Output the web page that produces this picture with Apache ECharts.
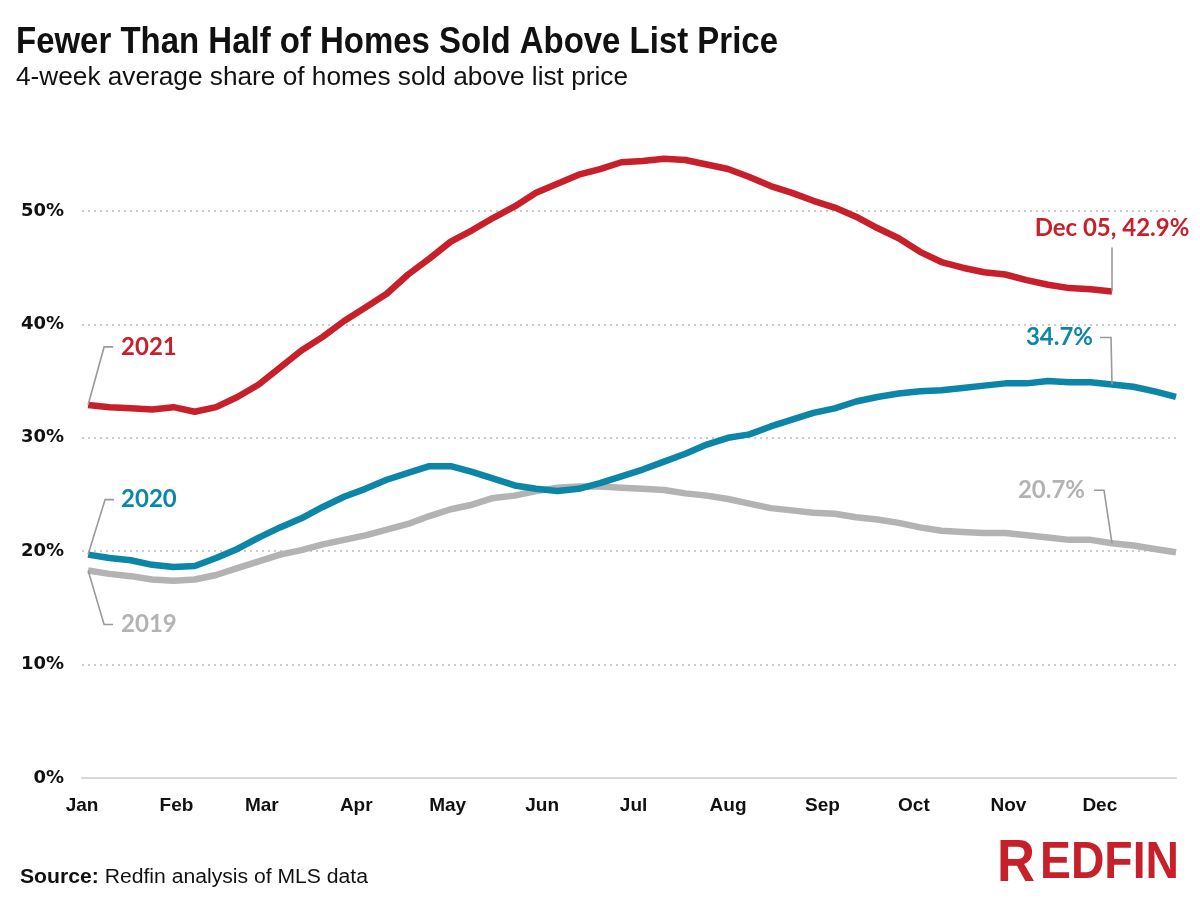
<!DOCTYPE html>
<html><head><meta charset="utf-8">
<script src="https://cdn.jsdelivr.net/npm/echarts@6/dist/echarts.min.js"></script>
<style>html,body{margin:0;padding:0;background:#fff}#c{width:1200px;height:900px}</style>
</head><body><div id="c"></div>
<script>
// ---------- data ----------
const weeks = [
 '2021-01-03','2021-01-10','2021-01-17','2021-01-24','2021-01-31',
 '2021-02-07','2021-02-14','2021-02-21','2021-02-28',
 '2021-03-07','2021-03-14','2021-03-21','2021-03-28',
 '2021-04-04','2021-04-11','2021-04-18','2021-04-25',
 '2021-05-02','2021-05-09','2021-05-16','2021-05-23','2021-05-30',
 '2021-06-06','2021-06-13','2021-06-20','2021-06-27',
 '2021-07-04','2021-07-11','2021-07-18','2021-07-25',
 '2021-08-01','2021-08-08','2021-08-15','2021-08-22','2021-08-29',
 '2021-09-05','2021-09-12','2021-09-19','2021-09-26',
 '2021-10-03','2021-10-10','2021-10-17','2021-10-24','2021-10-31',
 '2021-11-07','2021-11-14','2021-11-21','2021-11-28',
 '2021-12-05','2021-12-12','2021-12-19','2021-12-26'
];
const months = ['Jan','Feb','Mar','Apr','May','Jun','Jul','Aug','Sep','Oct','Nov','Dec'];
const monthStarts = ['2021-01-01','2021-02-01','2021-03-01','2021-04-01','2021-05-01','2021-06-01',
 '2021-07-01','2021-08-01','2021-09-01','2021-10-01','2021-11-01','2021-12-01'];
const yTicks = [0, 10, 20, 30, 40, 50];

const share2019 = [18.3,18.0,17.8,17.5,17.4,17.5,17.9,18.5,19.1,19.7,20.1,20.6,21.0,21.4,21.9,22.4,23.1,
 23.7,24.1,24.7,24.9,25.3,25.6,25.7,25.7,25.6,25.5,25.4,25.1,24.9,24.6,24.2,23.8,23.6,23.4,23.3,23.0,
 22.8,22.5,22.1,21.8,21.7,21.6,21.6,21.4,21.2,21.0,21.0,20.7,20.5,20.2,19.9];
const share2020 = [19.7,19.4,19.2,18.8,18.6,18.7,19.4,20.2,21.2,22.1,22.9,23.9,24.8,25.5,26.3,26.9,27.5,
 27.5,27.0,26.4,25.8,25.5,25.3,25.5,26.0,26.6,27.2,27.9,28.6,29.4,30.0,30.3,31.0,31.6,32.2,32.6,33.2,
 33.6,33.9,34.1,34.2,34.4,34.6,34.8,34.8,35.0,34.9,34.9,34.7,34.5,34.1,33.6];
const share2021 = [32.9,32.7,32.6,32.5,32.7,32.3,32.7,33.6,34.7,36.2,37.7,38.9,40.3,41.5,42.7,44.4,45.8,
 47.3,48.3,49.4,50.4,51.6,52.4,53.2,53.7,54.3,54.4,54.6,54.5,54.1,53.7,53.0,52.2,51.6,50.9,50.3,49.5,
 48.5,47.6,46.4,45.5,45.0,44.6,44.4,43.9,43.5,43.2,43.1,42.9];

// ---------- helpers ----------
function dayOfYear(s){ const [y,m,d] = s.split('-').map(Number); return (Date.UTC(y,m-1,d) - Date.UTC(y,0,1)) / 864e5; }
const weekDays = weeks.map(dayOfYear);
const monthDays = monthStarts.map(dayOfYear);
const pairs = vals => vals.map((v,i) => [weekDays[i], v]);

const RED = '#C8202A', BLUE = '#0B86A8', GRAY = '#B3B3B3', LEAD = '#9a9a9a', INK = '#111111';

const cv = document.createElement('canvas').getContext('2d');
function measure(text, font){ cv.font = font; return cv.measureText(text).width; }

const chart = echarts.init(document.getElementById('c'), null, {renderer:'canvas'});
chart.setOption({
  animation: false,
  backgroundColor: '#ffffff',
  grid: { left: 82, right: 24, top: 211, bottom: 122, containLabel: false },
  xAxis: {
    type: 'value', min: 0, max: 359,
    axisLine: { show: true, lineStyle: { color: '#d9d9d9', width: 2 } },
    axisTick: { show: false },
    splitLine: { show: false },
    axisLabel: {
      customValues: monthDays,
      margin: 18,
      color: INK, fontFamily: 'Liberation Sans', fontWeight: 'bold', fontSize: 19,
      formatter: v => { const i = monthDays.findIndex(d => Math.abs(d - v) < 0.01); return i >= 0 ? months[i] : ''; }
    }
  },
  yAxis: {
    type: 'value', min: yTicks[0], max: yTicks[yTicks.length-1], interval: 10,
    axisLine: { show: false }, axisTick: { show: false },
    splitLine: { show: true, lineStyle: { color: '#cccccc', width: 2, type: [2, 4] } },
    axisLabel: { margin: 18, color: INK, fontFamily: 'DejaVu Sans', fontWeight: 'bold', fontSize: 18,
      formatter: v => v + '%' }
  },
  series: [
    { name: '2019', type: 'line', data: pairs(share2019), symbol: 'none', clip: false, silent: true,
      lineStyle: { color: GRAY, width: 6.5 }, z: 2 },
    { name: '2020', type: 'line', data: pairs(share2020), symbol: 'none', clip: false, silent: true,
      lineStyle: { color: BLUE, width: 6.5 }, z: 3 },
    { name: '2021', type: 'line', data: pairs(share2021), symbol: 'none', clip: false, silent: true,
      lineStyle: { color: RED, width: 6.5 }, z: 4 }
  ]
});

// ---------- annotations ----------
const px = (d, v) => chart.convertToPixel({ gridIndex: 0 }, [d, v]);
const g = [];
function leader(pts){ g.push({ type:'polyline', silent:true, z:10, shape:{ points: pts }, style:{ stroke: LEAD, lineWidth: 1.6, fill: null } }); }
function txt(x, y, text, fill, font, align){
  g.push({ type:'text', silent:true, z:10, x, y, style:{ text, fill, font, align, verticalAlign:'middle' } });
}
const ANN = 'bold 24px Lato';

// start labels
let a = px(weekDays[0], share2021[0]);
leader([[a[0], a[1]], [a[0]+16, a[1]-58], [a[0]+25, a[1]-58]]);
txt(a[0]+33, a[1]-58, '2021', RED, ANN, 'left');
a = px(weekDays[0], share2020[0]);
leader([[a[0], a[1]], [a[0]+17, a[1]-55], [a[0]+26, a[1]-55]]);
txt(a[0]+33, a[1]-55, '2020', BLUE, ANN, 'left');
a = px(weekDays[0], share2019[0]);
leader([[a[0], a[1]], [a[0]+16, a[1]+54], [a[0]+25, a[1]+54]]);
txt(a[0]+33, a[1]+54, '2019', GRAY, ANN, 'left');

// end labels at Dec 05
const iDec = weeks.indexOf('2021-12-05');
a = px(weekDays[iDec], share2021[iDec]);
leader([[a[0], a[1]], [a[0], a[1]-44]]);
txt(a[0], a[1]-63, 'Dec 05, ' + share2021[iDec].toFixed(1) + '%', RED, ANN, 'center');
a = px(weekDays[iDec], share2020[iDec]);
leader([[a[0], a[1]], [a[0]-1, a[1]-47], [a[0]-12, a[1]-47]]);
txt(a[0]-19, a[1]-47, share2020[iDec].toFixed(1) + '%', BLUE, ANN, 'right');
a = px(weekDays[iDec], share2019[iDec]);
leader([[a[0], a[1]], [a[0]-8, a[1]-53], [a[0]-18, a[1]-53]]);
txt(a[0]-27, a[1]-53, share2019[iDec].toFixed(1) + '%', GRAY, ANN, 'right');

// ---------- titles, source, logo ----------
function fitText(x, y, text, font, targetW, fill){
  const w = measure(text, font);
  const s = targetW / w;
  g.push({ type:'text', silent:true, z:10, x, y, scaleX: s, originX: 0, originY: 0,
    style:{ text, fill, font, align:'left', verticalAlign:'middle' } });
  return s;
}
fitText(16, 43, 'Fewer Than Half of Homes Sold Above List Price', 'bold 36px "Liberation Sans"', 762, INK);
fitText(16, 78, '4-week average share of homes sold above list price', '25px "Liberation Sans"', 612, INK);

// source line
const sBold = 'Source:', sReg = ' Redfin analysis of MLS data';
const fB = 'bold 20px "Liberation Sans"', fR = '20px "Liberation Sans"';
const wB = measure(sBold, fB), wR = measure(sReg, fR);
const sc = 348 / (wB + wR);
g.push({ type:'text', silent:true, x:20, y:877, scaleX: sc, style:{ text:sBold, fill:INK, font:fB, verticalAlign:'middle' } });
g.push({ type:'text', silent:true, x:20 + wB*sc, y:877, scaleX: sc, style:{ text:sReg, fill:INK, font:fR, verticalAlign:'middle' } });

// logo
const fLR = 'bold 59px "Liberation Sans"', fLE = 'bold 52px "Liberation Sans"';
const sR = 38 / measure('R', fLR), sE = 139 / measure('EDFIN', fLE);
g.push({ type:'text', silent:true, x:997, y:865, scaleX:sR, style:{ text:'R', fill:RED, font:fLR, verticalAlign:'middle' } });
g.push({ type:'text', silent:true, x:1040, y:864, scaleX:sE, style:{ text:'EDFIN', fill:RED, font:fLE, verticalAlign:'middle' } });

chart.setOption({ graphic: g });
</script>
</body></html>
